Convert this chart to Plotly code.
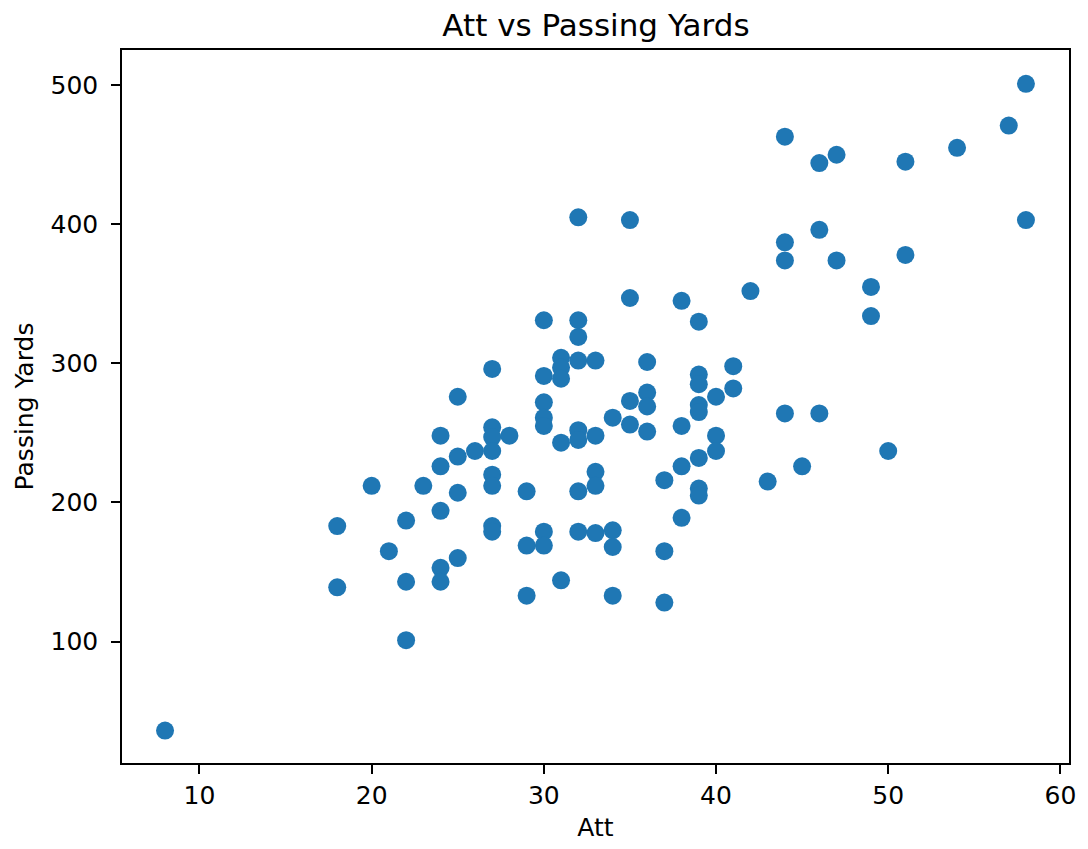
import plotly.graph_objects as go

# Data
att = [8, 18, 18, 20, 21, 22, 22, 22, 23, 24, 24, 24, 24, 24,
       25, 25, 25, 25, 26, 27, 27, 27, 27, 27, 27, 27, 27, 28,
       29, 29, 29, 30, 30, 30, 30, 30, 30, 30, 31, 31, 31, 31, 31,
       32, 32, 32, 32, 32, 32, 32, 32, 33, 33, 33, 33, 33,
       34, 34, 34, 34, 35, 35, 35, 35, 36, 36, 36, 36,
       37, 37, 37, 38, 38, 38, 38, 39, 39, 39, 39, 39, 39, 39, 39,
       40, 40, 40, 41, 41, 42, 43, 44, 44, 44, 44, 45,
       46, 46, 46, 47, 47, 49, 49, 50, 51, 51, 54, 57, 58, 58]
passing_yards = [36, 183, 139, 212, 165, 187, 143, 101, 212, 248, 226, 194, 153, 143,
                 276, 233, 207, 160, 237, 296, 254, 247, 237, 220, 212, 183, 179, 248,
                 208, 169, 133, 331, 291, 272, 261, 255, 179, 169, 304, 297, 289, 243, 144,
                 405, 331, 319, 302, 252, 245, 208, 179, 302, 248, 222, 212, 178,
                 261, 180, 168, 133, 403, 347, 273, 256, 301, 279, 269, 251,
                 216, 165, 128, 345, 255, 226, 189, 330, 292, 285, 270, 265, 232, 210, 205,
                 276, 248, 237, 298, 282, 352, 215, 463, 387, 374, 264, 226,
                 444, 396, 264, 450, 374, 355, 334, 237, 445, 378, 455, 471, 501, 403]

x_ticks = [10, 20, 30, 40, 50, 60]
y_ticks = [100, 200, 300, 400, 500]

fig = go.Figure()
fig.add_trace(go.Scatter(
    x=att, y=passing_yards, mode="markers",
    marker=dict(color="#1f77b4", size=18, line=dict(width=0)),
    showlegend=False,
))

axis_common = dict(
    showline=True, linecolor="black", linewidth=1.5, mirror=True,
    ticks="outside", ticklen=9, tickwidth=1.5, tickcolor="black",
    showgrid=False, zeroline=False,
    tickfont=dict(family="DejaVu Sans", size=25, color="black"),
)

fig.update_layout(
    width=1080, height=841,
    margin=dict(l=114, r=14, t=42, b=86),
    paper_bgcolor="white", plot_bgcolor="white",
    title=dict(text="Att vs Passing Yards", x=0.5444, xanchor="center",
               y=0.980, yanchor="middle",
               font=dict(family="DejaVu Sans", size=31, color="black")),
    xaxis=dict(range=[5.5, 60.5], tickvals=x_ticks,
               title=dict(text="Att", standoff=10,
                          font=dict(family="DejaVu Sans", size=25, color="black")),
               **axis_common),
    yaxis=dict(range=[12.7, 525.3], tickvals=y_ticks, ticklabelstandoff=8,
               title=dict(text="Passing Yards", standoff=10,
                          font=dict(family="DejaVu Sans", size=25, color="black")),
               **axis_common),
)

fig.write_html("out.html")
